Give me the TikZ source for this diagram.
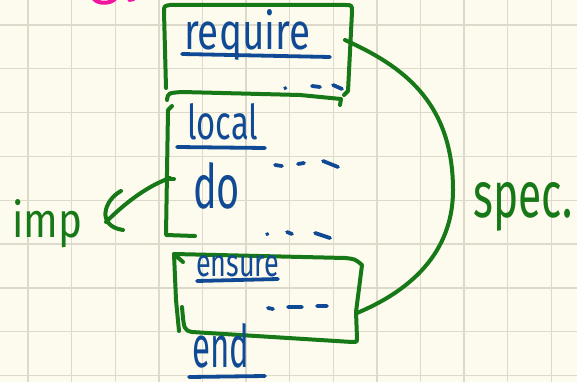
\documentclass[tikz,border=0pt]{standalone}
\usepackage{graphicx}
\usepackage{fontspec}
\setmainfont{Fira Sans}
\definecolor{paper}{RGB}{253,251,238}
\definecolor{gridc}{RGB}{222,218,203}
\definecolor{pen}{RGB}{22,120,22}
\definecolor{ink}{RGB}{16,74,148}
\definecolor{hot}{RGB}{245,20,160}
\tikzset{
  gridline/.style={gridc, line width=1.4pt},
  greenpen/.style={pen, line width=4pt, line cap=round, line join=round},
  bluepen/.style={ink, line width=3.8pt, line cap=round},
  bluetext/.style={ink, inner sep=0pt, anchor=base west},
  greentext/.style={pen, inner sep=0pt, anchor=base west},
}
\newcommand{\hw}[3]{\resizebox{#1pt}{#2pt}{#3}}
\begin{document}
\begin{tikzpicture}[x=1pt,y=-1pt]
\fill[paper] (0,0) rectangle (577,382);
\useasboundingbox (0,0) rectangle (577,382);
% grid
\foreach \k in {0,...,12} \draw[gridline] (28+43.6*\k,0) -- (28+43.6*\k,382);
\foreach \k in {0,...,8} \draw[gridline] (0,25+43.8*\k) -- (577,25+43.8*\k);
% pink fragment at top
\draw[hot, line width=4pt, line cap=round] (94,-1) .. controls (98,4) and (110,4) .. (115,-1);
\draw[hot, line width=3pt, line cap=round] (129,0.5) -- (134,-0.5);

% require box
\draw[greenpen] (166,88) -- (164,12) .. controls (164,6) .. (170,5) -- (345,5) .. controls (352,5) .. (352,12) -- (348,91) -- (344,95);
\draw[greenpen] (167,100) .. controls (168,93) .. (182,92) -- (300,95) -- (341,99) -- (340,105);
% local/do bracket
\draw[greenpen] (172,106) -- (168,110) -- (166,235) -- (195,236);
\draw[greenpen] (166,179) -- (174,179);
% ensure box
\draw[greenpen] (183,262) -- (174,254) -- (176,300) -- (179,331);
\draw[greenpen] (174,254) -- (345,258) .. controls (355,259) .. (362,265) -- (356,312) -- (357,338) .. controls (357,342) .. (352,342) -- (192,332) .. controls (184,330) .. (182,307);

% texts
\node[bluetext] (require) at (184,50) {\hw{126}{40}{require}};
\node[bluetext] (local) at (187,140) {\hw{71}{36}{local}};
\node[bluetext] (do) at (193,208) {\hw{47}{46}{do}};
\node[bluetext] (ensure) at (196,276) {\hw{83}{21}{ensure}};
\node[bluetext] (end) at (192,367) {\hw{57}{44}{end}};
\node[greentext] (imp) at (12,237) {\hw{70}{38}{imp}};
\node[greentext] (spec) at (473,217) {\hw{99}{35}{spec.}};

% underlines
\draw[bluepen] (182,54) -- (330,57);
\draw[bluepen] (177,147) -- (265,148);
\draw[bluepen] (197,281) -- (278,279);
\draw[bluepen] (189,377) -- (265,376);

% continuation dots
\draw[bluepen] (285,88) -- (285.5,88.2) (312,86) -- (320,87) (333,85) -- (342,89);
\draw[bluepen] (275,165) -- (282,166) (298,164) -- (304,163) (323,161) -- (338,167);
\draw[bluepen] (267,234) -- (267.5,234.2) (287,232) -- (292,234) (315,233) -- (330,238);
\draw[bluepen] (268,308) -- (273,309) (288,307) -- (302,307) (317,306) -- (327,306);

% connectors
\coordinate (tick) at (170,178);
\coordinate (imptip) at (106,222);
\coordinate (reqside) at (345,40);
\coordinate (enside) at (357,313);
\draw[greenpen] (tick) .. controls (150,185) and (128,200) .. (imptip);
\draw[greenpen] (121,191) .. controls (104,200) and (96,226) .. (123,230);
\draw[greenpen] (reqside) .. controls (400,65) and (453,100) .. (453,190) .. controls (453,260) and (400,295) .. (enside);
\end{tikzpicture}
\end{document}
